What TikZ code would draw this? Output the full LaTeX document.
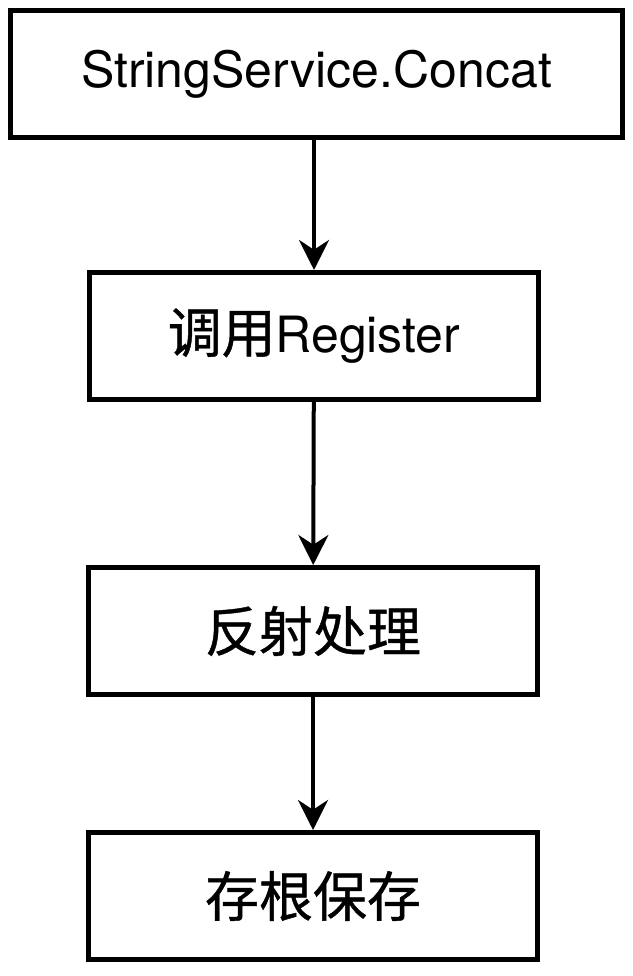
\documentclass[tikz,border=0pt]{standalone}
\usepackage{fontspec}
\setmainfont{TeX Gyre Heros}
\newfontfamily\cjk[Scale=1.08,FakeBold=0.8]{Noto Sans CJK SC}
\usetikzlibrary{arrows.meta}

\begin{document}
\begin{tikzpicture}[x=1pt,y=1pt,>={Stealth[length=30pt,width=30pt]},
  box/.style={draw, rectangle, line width=5pt, minimum height=127pt, font=\fontsize{50}{60}\selectfont}]
\useasboundingbox (0,0) rectangle (632,-976);
\node[box, minimum width=612pt] (call) at (316.5,-74) {StringService.Concat};
\node[box, minimum width=449pt] (reg) at (314,-336) {{\cjk 调用}Register};
\node[box, minimum width=449pt] (refl) at (313,-631) {\cjk 反射处理};
\node[box, minimum width=449pt] (stub) at (313,-896) {\cjk 存根保存};
\draw [->,line width=4pt] (call.south -| reg) -- (reg);
\draw [->,line width=4pt] (reg) -- (refl);
\draw [->,line width=4pt] (refl) -- (stub);
\end{tikzpicture}
\end{document}
